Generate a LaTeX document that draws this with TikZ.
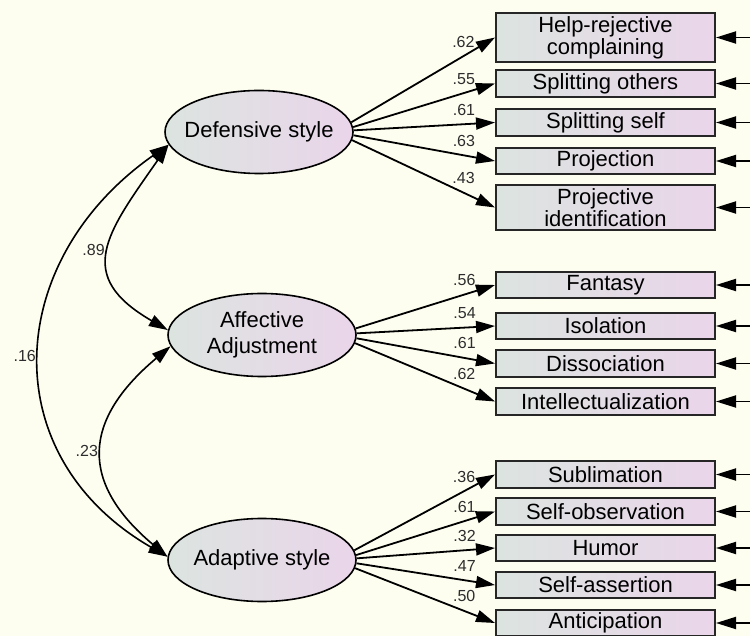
\documentclass[tikz,border=0pt]{standalone}
\usepackage{fontspec}
\setmainfont{Liberation Sans}
\usetikzlibrary{shapes.geometric, arrows.meta}

\definecolor{bgcream}{RGB}{253,253,240}
\definecolor{lgrey}{RGB}{220,228,224}
\definecolor{lpink}{RGB}{234,213,234}
\definecolor{lbltext}{RGB}{45,45,45}

\begin{document}
\begin{tikzpicture}[x=1pt, y=-1pt,
    latent/.style={ellipse, draw=black, line width=1.6pt, left color=lgrey, right color=lpink,
        minimum width=188pt, minimum height=83pt, inner xsep=-9pt, inner ysep=0pt, align=center,
        font=\fontsize{22}{26}\selectfont},
    obs/.style={rectangle, draw=black!85, line width=2pt, left color=lgrey, right color=lpink,
        minimum width=219pt, minimum height=27pt, inner sep=0pt, align=center,
        font=\fontsize{22}{22}\selectfont},
    load/.style={line width=1.8pt, -{Triangle[length=19pt,width=12pt]}},
    err/.style={line width=1.8pt, -{Triangle[length=20pt,width=12pt]}},
    cov/.style={line width=1.6pt, {Triangle[length=19pt,width=12pt]}-{Triangle[length=19pt,width=12pt]}},
    lbl/.style={font=\fontsize{16}{16}\selectfont, text=lbltext, inner sep=1pt, pos=0.78, above=7pt},
    clbl/.style={font=\fontsize{16}{16}\selectfont, text=lbltext, inner sep=1pt, pos=0.5, left=3pt},
]
    \useasboundingbox (0,0) rectangle (750,636);
    \clip (0,0) rectangle (750,636);
    \fill[bgcream] (0,0) rectangle (750,636);

    % latent factors
    \node[latent] (def) at (259,132) {Defensive style};
    \node[latent] (aff) at (262,335) {Affective\\Adjustment};
    \node[latent] (ada) at (262,560) {Adaptive style};

    % observed variables
    \node[obs, minimum height=49pt] (hrc) at (605.5,37.5) {Help-rejective\\complaining};
    \node[obs] (spo) at (605.5,83.5) {Splitting others};
    \node[obs] (sps) at (605.5,122.5) {Splitting self};
    \node[obs, minimum height=26pt] (pro) at (605.5,161) {Projection};
    \node[obs, minimum height=45pt] (pid) at (605.5,207.5) {Projective\\identification};

    \node[obs, minimum height=26pt] (fan) at (605.5,285) {Fantasy};
    \node[obs, minimum height=26pt] (iso) at (605.5,326) {Isolation};
    \node[obs] (dis) at (605.5,363.5) {Dissociation};
    \node[obs] (int) at (605.5,401.5) {Intellectualization};

    \node[obs] (sub) at (605.5,474.5) {Sublimation};
    \node[obs] (sob) at (605.5,511.5) {Self-observation};
    \node[obs, minimum height=26pt] (hum) at (605.5,548) {Humor};
    \node[obs, minimum height=26pt] (sas) at (605.5,585) {Self-assertion};
    \node[obs, minimum height=26pt] (ant) at (605.5,623) {Anticipation};

    % loadings
    \draw[load] (def.6) -- node[lbl] {.62} (hrc.west);
    \draw[load] (def.3) -- node[lbl] {.55} (spo.west);
    \draw[load] (def.1) -- node[lbl] {.61} (sps.west);
    \draw[load] (def.358) -- node[lbl] {.63} (pro.west);
    \draw[load] (def.355) -- node[lbl] {.43} (pid.west);

    \draw[load] (aff.4) -- node[lbl] {.56} (fan.west);
    \draw[load] (aff.1) -- node[lbl] {.54} (iso.west);
    \draw[load] (aff.358) -- node[lbl] {.61} (dis.west);
    \draw[load] (aff.355) -- node[lbl] {.62} (int.west);

    \draw[load] (ada.6) -- node[lbl] {.36} (sub.west);
    \draw[load] (ada.3) -- node[lbl] {.61} (sob.west);
    \draw[load] (ada.1) -- node[lbl] {.32} (hum.west);
    \draw[load] (ada.358) -- node[lbl] {.47} (sas.west);
    \draw[load] (ada.355) -- node[lbl] {.50} (ant.west);

    % error terms
    \foreach \b in {hrc,spo,sps,pro,pid,fan,iso,dis,int,sub,sob,hum,sas,ant} {
        \coordinate (\b-e) at ([xshift=45pt]\b.east);
        \draw[err] (\b-e) -- (\b.east);
    }

    % covariances
    \draw[cov] (def.188) to[out=215, in=150, looseness=1.25] node[clbl] {.16} (ada.178);
    \draw[cov] (def.188) to[out=235, in=150, looseness=1.5] node[clbl] {.89} (aff.177);
    \draw[cov] (aff.187) to[out=220, in=140, looseness=1.4] node[clbl] {.23} (ada.178);
\end{tikzpicture}
\end{document}
